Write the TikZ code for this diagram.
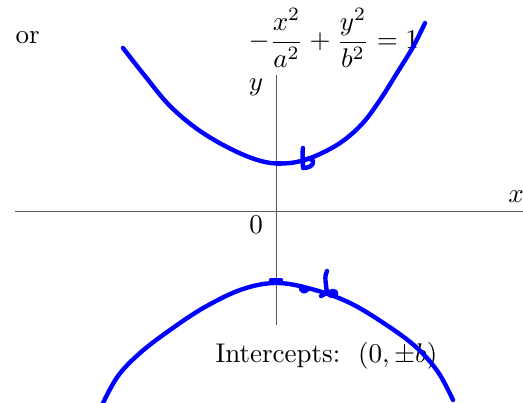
\documentclass[tikz,border=0pt]{standalone}
\begin{document}
\begin{tikzpicture}[x=1pt,y=-1pt,
  axis/.style={draw=black!65,line width=0.9pt},
  lbl/.style={scale=2.7,inner sep=0pt},
  ink/.style={draw=blue,line width=4.4pt,line cap=round,line join=round}]
\useasboundingbox (0,0) rectangle (523,403);
% axes
\coordinate (xl) at (15,211);
\coordinate (xr) at (523,211);
\coordinate (yt) at (276,75);
\coordinate (yb) at (276,325);
\draw[axis] (xl) -- (xr);
\draw[axis] (yt) -- (yb);
\node[lbl] (xlab) at (516,197) {$x$};
\node[lbl] (ylab) at (256,87) {$y$};
\node[lbl] (zero) at (256,225) {$0$};
\node[lbl,anchor=west] (or) at (15,38) {or};
\node[lbl,anchor=west] (eq) at (248,38) {$\displaystyle -\frac{x^2}{a^2}+\frac{y^2}{b^2}=1$};
\node[lbl,anchor=west] (int) at (215,356) {Intercepts:\ \ $(0,\pm b)$};
% hand-drawn curves
\draw[ink] plot[smooth,tension=0.6] coordinates {(123,48) (145,76) (170,106) (200,131) (235,151) (265,162) (290,163) (313,157) (340,143) (362,124) (380,100) (397,73) (413,47) (425,23)};
\draw[ink] plot[smooth,tension=0.6] coordinates {(103,403) (118,376) (140,353) (170,330) (205,307) (243,289) (278,283) (315,290) (350,303) (385,324) (416,347) (438,372) (453,400)};
% marks
\draw[ink] (272,163) -- (282,163);
\draw[ink] (303,148) .. controls (302,156) and (303,163) .. (303,168) .. controls (308,168) and (314,166) .. (313,161) .. controls (311,157) and (305,159) .. (303,161);
\draw[ink] (271,280) -- (281,280);
\draw[ink] (301,289) .. controls (303,292) and (306,292) .. (307,290);
\draw[ink] (327,271) .. controls (324,276) and (326,284) .. (327,293) .. controls (331,298) and (338,296) .. (336,292) .. controls (333,289) and (325,294) .. (321,296);
\end{tikzpicture}
\end{document}
